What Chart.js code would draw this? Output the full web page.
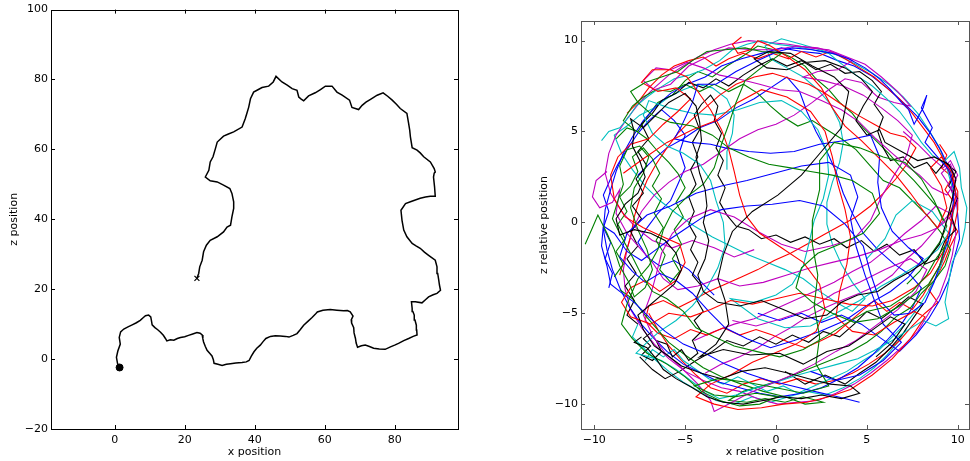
<!DOCTYPE html>
<html>
<head>
<meta charset="utf-8">
<script src="https://cdn.jsdelivr.net/npm/chart.js@4/dist/chart.umd.min.js"></script>
<style>
  body { margin: 0; background: #fff; width: 970px; height: 461px; position: relative; overflow: hidden; }
  canvas { position: absolute; top: 0; }
  #left { left: 0; }
  #right { left: 530px; }
</style>
</head>
<body>
<canvas id="left" width="470" height="461"></canvas>
<canvas id="right" width="440" height="461"></canvas>
<script>
// left panel: one walk, (x, z)
const leftTrack = [[1.4,-2.4],[0.8,-1.2],[0.5,0.5],[0.9,2.3],[1.6,4.3],[1.3,6.2],[1.7,7.8],[2.6,8.6],[3.8,9.2],[5.0,9.8],[6.2,10.4],[7.3,11.1],[8.2,11.9],[8.8,12.4],[9.7,12.6],[10.3,12.1],[10.5,11.0],[10.7,9.8],[11.5,9.0],[12.3,8.4],[13.1,7.7],[13.9,6.8],[14.5,5.9],[14.9,5.2],[15.9,5.5],[16.9,5.4],[17.9,5.9],[18.8,6.2],[20.0,6.4],[21.1,6.8],[22.3,7.2],[23.5,7.6],[24.4,7.4],[25.0,6.9],[25.2,5.8],[25.4,4.9],[25.9,3.6],[26.4,2.5],[27.2,1.6],[27.8,0.9],[28.2,-0.2],[28.4,-1.2],[29.5,-1.5],[30.7,-1.8],[31.9,-1.5],[33.1,-1.3],[34.6,-1.1],[36.4,-1.0],[37.6,-0.8],[38.4,-0.4],[39.0,0.8],[39.8,2.1],[40.6,3.1],[41.6,4.0],[42.4,5.0],[43.2,5.9],[44.5,6.5],[45.9,6.7],[47.3,6.6],[48.8,6.5],[49.8,6.3],[51.0,6.8],[52.1,7.3],[53.0,8.4],[54.0,9.7],[55.2,10.8],[56.4,11.9],[57.3,12.8],[57.9,13.5],[59.5,14.0],[61.6,14.2],[63.5,14.0],[65.4,13.8],[66.5,13.9],[67.3,13.5],[68.1,12.3],[67.6,11.2],[67.7,10.3],[68.3,9.0],[68.4,7.5],[68.8,5.9],[69.0,4.6],[69.4,3.4],[70.5,3.8],[71.6,4.0],[72.8,3.6],[74.0,3.1],[75.6,2.9],[77.3,2.8],[78.8,3.5],[80.0,4.0],[81.1,4.5],[82.6,5.3],[84.0,5.9],[85.3,6.5],[86.4,6.9],[86.3,8.3],[86.2,9.7],[85.8,11.2],[85.6,12.6],[85.2,13.6],[85.0,14.5],[84.8,16.4],[85.9,16.4],[87.8,16.1],[88.8,17.0],[89.7,17.8],[91.0,18.4],[92.1,18.8],[93.1,19.7],[92.8,21.2],[92.6,22.6],[92.3,24.5],[92.1,26.4],[91.6,28.3],[89.7,29.7],[88.5,30.6],[87.3,31.7],[86.1,32.4],[85.0,33.1],[83.5,35.0],[82.6,36.9],[82.1,39.7],[81.8,42.6],[83.1,44.5],[84.5,45.0],[85.9,45.5],[87.3,46.0],[88.8,46.4],[90.2,46.6],[91.6,46.6],[91.4,49.3],[91.1,52.1],[91.3,53.2],[91.6,53.5],[91.3,54.5],[90.2,56.4],[88.3,57.9],[87.3,59.0],[86.4,59.8],[85.0,60.5],[84.5,63.6],[84.3,65.5],[84.0,67.4],[83.5,70.3],[81.6,71.7],[80.5,72.9],[79.3,74.1],[78.0,75.2],[76.7,76.2],[75.0,75.5],[73.1,74.3],[71.8,73.5],[70.7,72.6],[69.7,71.4],[67.8,72.0],[67.1,74.1],[65.0,75.5],[63.5,76.4],[62.1,78.1],[60.2,78.1],[58.8,77.1],[57.3,76.2],[55.4,75.3],[54.0,73.9],[53.3,74.4],[52.6,75.0],[52.1,76.9],[50.7,77.4],[49.3,78.4],[47.8,79.3],[46.1,80.9],[45.3,79.3],[44.0,78.1],[42.1,77.7],[40.8,77.0],[39.7,76.4],[38.8,74.5],[38.3,72.1],[37.8,70.4],[37.3,68.8],[36.4,66.4],[34.0,65.0],[32.5,64.4],[31.1,63.8],[29.3,62.1],[28.8,60.3],[28.1,57.9],[27.3,56.4],[26.9,54.0],[25.9,52.1],[27.3,51.0],[29.3,50.7],[31.1,49.8],[32.9,48.8],[33.5,47.4],[34.0,45.0],[34.0,43.1],[33.5,40.7],[33.1,38.3],[32.1,37.8],[31.1,36.4],[29.3,35.0],[27.3,34.0],[26.2,32.6],[25.4,30.7],[25.0,28.3],[24.3,26.4],[24.0,24.5],[23.5,23.1]];
const leftXTicks = [0, 20, 40, 60, 80];
const leftZTicks = [-20, 0, 20, 40, 60, 80, 100];

// right panel: relative walks, several per colour
const relTicks = [-10, -5, 0, 5, 10];
const blackTrack = [[-7.4,-6.3],[-7.8,-6.6],[-7.1,-6.9],[-6.6,-7.5],[-6.2,-8.1],[-5.5,-8.6],[-4.6,-9.1],[-3.8,-9.6],[-2.9,-9.9],[-1.8,-10.0],[-0.7,-9.8],[0.3,-9.6],[1.4,-9.7],[2.5,-9.5],[3.6,-9.7],[4.6,-9.4],[4.1,-9.0],[3.0,-8.9],[1.8,-8.6],[0.7,-8.3],[-0.6,-8.0],[-1.9,-8.2],[-3.0,-8.6],[-4.1,-8.3],[-5.2,-7.9],[-6.0,-7.3],[-6.7,-6.8],[-7.3,-5.9],[-7.6,-5.1],[-7.0,-4.6],[-6.3,-4.0],[-5.6,-3.4],[-5.2,-2.6],[-5.5,-1.7],[-6.1,-1.0],[-6.9,-0.6],[-7.8,-0.4],[-8.6,-0.7],[-8.8,0.2],[-8.3,1.0],[-7.6,1.6],[-7.2,2.5],[-7.5,3.4],[-7.9,4.2],[-7.8,5.0],[-8.0,5.7],[-7.3,5.2],[-6.6,5.9],[-5.9,6.6],[-5.0,7.1],[-4.4,6.4],[-4.2,5.5],[-4.1,4.5],[-4.4,3.6],[-4.2,2.7],[-3.9,1.8],[-3.8,0.9],[-4.0,0.0],[-3.7,-1.0],[-3.9,-2.0],[-4.3,-2.9],[-4.0,-3.8],[-3.2,-4.4],[-2.0,-4.6],[-0.8,-4.3],[0.4,-4.8],[1.6,-5.3],[2.8,-5.1],[3.6,-4.4],[4.5,-4.0],[5.6,-3.8],[6.5,-3.2],[7.4,-2.7],[8.3,-2.1],[9.0,-1.2],[9.4,0.1],[9.7,1.3],[9.9,2.4],[9.5,3.2],[8.7,3.6],[7.8,3.4],[6.9,3.9],[6.0,4.4],[5.7,5.1],[5.0,4.8],[4.4,5.6],[4.8,6.4],[5.3,7.2],[4.7,7.9],[3.8,8.5],[2.7,8.9],[1.6,8.8],[0.6,8.4],[-0.5,8.5],[-1.2,9.0],[-0.4,9.4],[0.8,9.3],[2.0,8.6],[3.2,8.0],[4.0,7.2],[3.6,5.2],[2.5,3.9],[1.4,2.6],[0.1,1.5],[-1.3,0.6],[-2.4,-0.5],[-2.9,-1.8],[-3.2,-3.1],[-2.8,-4.3],[-2.6,-5.6],[-3.3,-6.7],[-4.2,-7.4],[-2.9,-7.0],[-1.4,-7.3],[0.2,-7.2],[1.5,-7.8],[2.8,-7.1],[4.0,-6.8],[5.2,-6.0],[6.3,-5.2],[7.1,-5.6],[6.4,-6.6],[5.5,-7.4]];
const blackTrack2 = [[-6.8,-6.0],[-7.3,-6.4],[-6.9,-6.8],[-7.4,-7.3],[-6.8,-7.6],[-6.3,-7.1],[-6.6,-6.5],[-6.0,-6.7],[-5.7,-7.4],[-5.2,-7.0],[-4.8,-7.6],[-4.3,-7.2],[-4.6,-6.5],[-4.1,-6.0],[-4.5,-5.4],[-4.0,-4.9],[-4.4,-4.2],[-4.1,-3.5],[-4.6,-2.9],[-4.3,-2.2],[-4.7,-1.5],[-4.4,-0.8],[-4.8,-0.1],[-4.5,0.6],[-4.8,1.4],[-4.4,2.1],[-4.7,2.9],[-4.3,3.6],[-4.6,4.4],[-4.2,5.1],[-4.5,5.9],[-4.1,6.5],[-3.6,7.0],[-3.2,6.4],[-3.4,5.6],[-3.0,4.9],[-3.3,4.1],[-2.9,3.4],[-3.2,2.6],[-2.8,1.9],[-3.1,1.1],[-2.7,0.4],[-2.2,-0.2],[-1.5,-0.4],[-0.8,-0.9],[0.0,-0.7],[0.8,-1.1],[1.6,-0.8],[2.4,-1.2],[3.2,-0.9],[3.9,-1.4],[4.7,-1.0],[5.4,-1.6],[6.1,-1.2],[6.8,-1.8],[7.6,-1.5],[8.2,-2.3],[8.9,-2.0],[9.3,-1.0],[9.9,-0.4],[9.6,0.5],[10.0,1.3],[9.5,2.0],[9.9,2.8],[9.3,3.3],[8.8,2.7],[8.3,3.3],[7.6,3.0],[7.0,3.6],[6.3,3.4],[5.9,4.1],[5.6,5.0],[5.9,5.8],[5.4,6.5],[5.8,7.2],[5.3,7.8],[4.6,8.3],[3.8,8.2],[3.0,8.7],[2.2,8.4],[1.4,8.9],[0.6,8.6],[-0.2,9.0],[-1.0,8.6],[-1.8,8.1],[-2.6,7.5],[-3.3,7.9],[-4.0,7.4],[-4.8,7.7],[-5.5,7.1],[-6.3,6.7],[-6.8,6.0],[-7.4,5.4],[-7.0,4.6],[-7.6,3.9],[-7.1,3.1],[-7.7,2.4],[-7.3,1.6],[-7.9,0.9],[-7.4,0.2],[-8.0,-0.5],[-7.6,-1.3],[-8.2,-2.0],[-7.7,-2.8],[-8.3,-3.5],[-7.8,-4.3],[-8.2,-5.1],[-7.6,-5.6]];
const blackTrack3 = [[0.5,-8.2],[1.6,-8.9],[2.7,-8.4],[3.8,-8.9],[4.6,-8.3],[5.5,-7.7],[6.3,-6.9],[7.0,-6.1],[7.6,-5.2],[8.1,-4.5],[7.3,-4.1],[6.6,-4.7],[5.8,-5.3],[5.0,-4.9],[4.3,-5.6],[3.5,-6.3],[2.6,-6.0],[1.8,-6.6],[0.9,-6.2],[0.0,-6.7],[-0.9,-6.3],[-1.8,-6.8],[-2.7,-6.5],[-3.5,-7.1],[-4.4,-7.6],[-5.3,-8.2],[-6.1,-8.6],[-6.8,-8.1],[-7.5,-7.4]];
const greenTrack = [[-10.5,-1.2],[-10.1,-0.3],[-9.8,0.4],[-9.3,-0.6],[-8.9,-1.5],[-8.6,-2.4],[-8.1,-3.3],[-7.8,-4.1],[-7.2,-3.6],[-6.8,-2.6],[-7.1,-1.5],[-7.6,-0.4],[-8.0,0.8],[-7.8,1.9],[-7.3,2.7],[-7.0,3.6],[-7.5,4.2],[-8.2,4.0],[-8.6,3.1],[-8.4,2.1],[-8.7,1.2],[-9.0,0.2],[-8.5,-0.8],[-7.9,-1.9],[-7.4,-2.9],[-6.8,-3.8],[-6.0,-4.2],[-5.1,-4.9],[-4.4,-5.8],[-3.4,-6.3],[-2.3,-6.8],[-1.1,-7.1],[0.2,-7.4],[1.5,-7.0],[2.7,-6.3],[3.8,-5.6],[5.0,-4.9],[6.3,-4.6],[7.5,-3.8],[8.3,-2.9],[8.8,-2.0],[9.3,-1.3],[9.0,-2.4],[8.4,-3.4],[7.6,-4.0],[6.8,-4.6],[5.6,-5.3],[4.3,-5.5],[3.1,-5.0],[2.0,-4.4],[1.1,-3.6],[1.4,-2.5],[2.3,-1.7],[3.5,-1.2],[4.8,-0.6],[5.7,0.5],[5.3,1.6],[4.2,2.3],[3.1,2.6],[1.9,2.8],[0.8,3.0],[-0.4,3.2],[-1.5,3.6],[-2.6,4.1],[-3.5,4.8],[-4.6,5.3],[-5.8,5.5],[-6.8,5.9],[-7.6,6.6],[-8.0,7.2],[-7.2,7.7],[-6.3,8.0],[-5.4,8.3],[-4.6,8.9],[-3.8,9.4],[-2.8,9.5],[-1.7,9.6],[-0.8,9.4],[0.3,9.3],[-0.7,8.6],[-1.7,7.8],[-2.2,6.6],[-2.6,5.4],[-3.0,4.3],[-3.4,3.0],[-4.0,2.1],[-4.9,1.4],[-5.7,0.6],[-6.2,-0.4],[-6.5,-1.5],[-7.0,-2.4],[-7.6,-3.1],[-8.2,-4.5],[-8.5,-5.6],[-7.9,-6.4],[-7.1,-7.2],[-6.0,-7.8],[-5.0,-8.5],[-4.1,-9.3],[-3.1,-9.8],[-2.0,-10.1],[-0.9,-10.0],[0.1,-9.6],[-1.1,-9.4],[-2.3,-9.6],[-3.4,-9.5],[-4.5,-9.0],[-3.2,-8.6],[-1.6,-8.8],[0.0,-9.1],[1.5,-9.4],[2.9,-9.0],[2.2,-7.8],[2.4,-6.3],[2.1,-4.6],[2.3,-2.9],[2.0,-1.2],[2.0,0.1],[2.4,1.8],[2.4,3.4],[3.2,4.4],[4.6,4.1],[5.9,3.6],[7.1,3.3],[8.0,2.4],[8.7,1.2],[9.2,0.1]];
const greenTrack2 = [[-8.9,-3.0],[-8.4,-2.3],[-8.8,-1.6],[-8.3,-0.9],[-8.7,-0.1],[-8.2,0.6],[-8.6,1.4],[-8.0,2.0],[-7.6,2.8],[-7.9,3.6],[-7.3,4.1],[-6.8,3.5],[-6.4,2.7],[-6.8,2.0],[-6.3,1.3],[-6.7,0.5],[-6.2,-0.3],[-6.6,-1.0],[-6.1,-1.8],[-6.4,-2.6],[-5.8,-3.3],[-5.3,-2.7],[-5.7,-2.0],[-5.2,-1.2],[-5.6,-0.4],[-5.1,0.3],[-5.5,1.1],[-5.0,1.9],[-5.4,2.7],[-5.9,3.3],[-6.5,3.9],[-7.1,4.6],[-7.8,5.1],[-8.4,5.6],[-7.9,6.4],[-7.3,6.9],[-6.6,7.3],[-5.8,7.2],[-5.0,7.6],[-4.2,7.2],[-3.4,7.6],[-2.6,7.2],[-1.8,7.6],[-1.0,7.1],[-0.3,6.4],[0.4,5.8],[1.2,5.3],[2.0,5.6],[2.8,5.1],[3.6,4.6],[4.4,4.0],[5.2,3.1],[5.9,2.3],[6.8,1.9],[7.6,1.1],[8.4,0.3],[9.1,-0.6],[9.6,-1.5],[9.3,-2.4],[8.7,-3.2],[8.0,-3.9],[7.4,-4.7],[6.6,-5.2],[5.8,-6.0],[5.0,-6.6],[4.1,-7.1],[3.2,-7.5],[2.2,-7.9],[1.2,-8.3],[0.2,-8.7],[-0.8,-9.0],[-1.8,-9.3],[-2.6,-9.8],[-1.6,-9.9],[-0.6,-9.7],[0.5,-9.9],[1.5,-9.6],[2.6,-9.9],[1.6,-10.0],[0.5,-9.6],[-0.7,-9.3],[-1.9,-8.9],[-3.0,-8.5],[-4.0,-8.0],[-5.0,-7.3],[-5.9,-6.6],[-6.6,-5.8],[-7.3,-5.0],[-7.9,-4.2],[-8.6,-3.7]];
const greenTrack3 = [[-8.8,4.6],[-8.2,5.2],[-7.6,5.0],[-7.1,5.8],[-6.5,6.6],[-5.7,7.0],[-5.0,7.8],[-4.3,8.3],[-3.5,8.0],[-2.7,8.6],[-1.9,9.1],[-1.0,9.7],[-0.1,9.5],[0.8,9.1],[1.6,8.6],[2.2,7.9],[2.9,7.3],[3.5,6.6],[4.2,6.0],[4.8,5.2],[5.5,4.5],[6.2,3.8],[6.9,3.0],[7.6,2.3],[8.3,1.5],[8.9,0.8],[9.4,-0.2],[9.0,-1.1],[8.5,-1.8],[7.9,-2.7],[7.2,-3.4]];
const redTrack = [[-1.9,10.2],[-2.4,9.8],[-2.1,9.3],[-1.4,9.5],[-1.0,10.0],[-0.3,9.7],[0.5,9.2],[1.6,8.4],[2.5,7.4],[3.1,6.3],[3.8,5.3],[4.7,4.5],[5.6,3.6],[6.6,2.6],[7.4,1.6],[8.2,0.5],[8.9,-0.3],[9.4,0.8],[9.1,2.0],[8.5,3.0],[9.1,3.6],[9.7,2.7],[9.9,1.5],[9.6,-0.2],[9.2,-1.6],[8.5,-2.8],[7.6,-3.6],[6.4,-4.3],[5.3,-4.6],[4.0,-4.5],[2.6,-4.2],[1.3,-3.9],[0.0,-4.2],[-1.3,-4.5],[-2.5,-4.3],[-3.6,-4.8],[-4.7,-5.2],[-5.9,-5.0],[-6.9,-5.6],[-8.0,-5.2],[-8.5,-4.4],[-8.0,-3.6],[-7.2,-3.2],[-6.4,-3.8],[-5.5,-3.2],[-5.0,-2.2],[-5.3,-1.2],[-6.2,-0.8],[-7.3,-0.3],[-8.3,0.3],[-8.9,1.3],[-9.1,2.6],[-8.7,3.6],[-8.0,4.3],[-7.0,4.6],[-6.2,5.4],[-5.4,6.1],[-4.7,6.8],[-5.5,7.4],[-6.5,7.2],[-7.4,7.7],[-6.8,8.4],[-5.8,8.4],[-4.9,8.0],[-4.3,7.2],[-3.6,6.2],[-3.0,5.1],[-2.6,4.0],[-2.3,2.8],[-2.0,1.5],[-1.6,0.3],[-0.9,-0.6],[0.3,-1.4],[1.5,-2.2],[2.4,-3.4],[2.7,-4.8],[2.2,-6.0],[1.1,-6.7],[-0.1,-7.2],[-1.3,-7.7],[-2.5,-8.4],[-3.6,-8.9],[-4.4,-9.6],[-3.4,-10.0],[-2.1,-10.3],[-0.8,-10.2],[0.4,-10.0],[1.7,-9.9],[2.9,-9.6],[4.1,-9.2],[5.3,-8.4],[6.4,-7.5],[7.4,-6.4],[8.2,-5.2],[7.6,-4.9],[6.5,-5.5],[5.4,-6.2],[4.2,-6.0],[3.3,-5.2],[3.5,-3.8],[3.9,-2.3],[4.1,-0.8],[3.8,0.7],[3.4,2.1],[3.1,3.6],[2.7,5.0],[1.9,6.1],[0.6,6.9],[-0.8,7.3],[-2.1,6.6],[-3.3,5.6],[-4.6,5.1],[-6.0,4.4],[-7.3,3.5],[-8.4,2.7]];
const redTrack2 = [[-8.2,6.0],[-7.6,6.6],[-7.0,7.4],[-6.3,8.1],[-5.6,8.6],[-4.8,8.9],[-4.0,9.1],[-3.3,8.6],[-2.6,9.0],[-1.8,9.3],[-1.0,9.0],[-0.2,9.3],[0.7,9.0],[1.4,9.4],[2.2,9.1],[3.0,9.4],[3.8,9.0],[4.6,8.5],[5.4,8.0],[6.1,7.4],[6.8,6.8],[7.5,6.0],[8.1,5.2],[8.7,4.4],[9.2,3.5],[9.6,2.6],[10.0,1.7],[10.0,0.7],[9.8,-0.3],[9.5,-1.3],[9.1,-2.2],[8.6,-3.1],[8.1,-4.0],[7.5,-4.8],[6.8,-4.4],[6.1,-4.9],[5.4,-4.3],[4.7,-4.9],[4.0,-5.5],[3.3,-6.1],[2.5,-6.5],[1.6,-6.9],[0.7,-6.6],[-0.2,-6.2],[-1.1,-5.9],[-2.0,-6.2],[-2.9,-5.8],[-3.8,-6.2],[-4.7,-5.9],[-5.6,-6.4],[-6.5,-6.1],[-7.2,-5.4],[-7.0,-4.6],[-6.2,-4.3],[-5.4,-4.7],[-4.6,-4.3],[-3.7,-3.8],[-2.8,-3.4],[-1.9,-3.0],[-1.0,-2.6],[-0.1,-2.1],[0.8,-1.7],[1.7,-1.2],[2.6,-0.7],[3.5,-0.2],[4.4,0.3],[5.2,0.9],[5.9,1.6],[6.6,2.4],[7.2,3.2],[7.7,4.1],[7.1,4.7],[6.3,4.9],[5.4,5.4],[4.5,5.9],[3.6,6.5],[2.7,7.1],[1.8,7.6],[0.8,7.9],[-0.2,8.2],[-1.2,8.0],[-2.2,7.6],[-3.1,7.0],[-3.9,6.3],[-4.7,5.6],[-5.4,4.9],[-6.0,4.1],[-6.6,3.2],[-7.1,2.3],[-7.5,1.3],[-7.8,0.3],[-8.0,-0.8],[-8.3,-1.8],[-8.6,-2.9]];
const redTrack3 = [[9.0,4.3],[9.4,3.7],[9.1,3.0],[9.7,2.5],[9.3,1.8],[9.8,1.1],[9.5,0.3],[10.0,-0.5],[9.6,-1.3],[9.3,-2.1],[8.9,-2.9],[8.4,-3.7],[8.9,-4.4],[8.2,-5.0],[7.5,-5.7],[6.8,-6.5],[6.0,-7.2],[5.1,-7.8],[4.2,-8.3],[3.2,-8.7],[2.2,-8.9],[1.2,-8.6],[0.2,-8.9],[-0.8,-8.6],[-1.8,-8.9],[-2.7,-9.4],[-3.6,-9.1],[-4.4,-8.4],[-5.2,-7.6],[-5.9,-6.8],[-6.5,-5.9],[-7.0,-5.0]];
const blueTrack = [[4.6,-9.9],[3.4,-9.6],[2.1,-9.3],[0.9,-9.0],[-0.4,-8.7],[-1.6,-8.3],[-2.8,-7.8],[-3.9,-7.2],[-5.1,-6.7],[-6.1,-6.0],[-7.0,-5.2],[-7.8,-4.4],[-8.6,-3.8],[-9.1,-3.4],[-9.3,-2.4],[-9.6,-1.3],[-9.5,-0.2],[-8.9,-0.6],[-8.2,-1.6],[-7.4,-2.1],[-6.6,-1.5],[-5.8,-0.9],[-4.9,-0.3],[-4.0,0.3],[-3.0,0.7],[-1.6,0.9],[-0.2,1.0],[1.3,1.2],[2.6,0.9],[3.8,-0.1],[4.8,-1.3],[5.2,-2.8],[5.7,-4.3],[6.5,-5.1],[7.4,-5.0],[8.2,-4.4],[8.7,-3.3],[9.1,-2.1],[9.5,-0.9],[9.7,0.4],[9.8,1.8],[9.5,2.9],[8.8,3.7],[8.2,4.4],[8.6,5.2],[8.0,6.3],[8.3,7.0],[8.1,6.3],[7.6,5.4],[7.3,6.2],[6.9,6.6],[6.3,7.3],[5.7,7.9],[4.9,8.5],[4.0,9.0],[3.1,9.3],[2.0,9.5],[0.9,9.6],[0.1,9.4],[-1.0,8.9],[-2.2,8.3],[-3.3,7.6],[-4.3,7.6],[-4.6,6.6],[-5.2,5.3],[-5.6,4.6],[-4.7,4.4],[-3.6,4.3],[-2.8,4.1],[-1.5,3.9],[-0.3,3.8],[1.0,3.9],[2.4,4.3],[3.8,4.5],[5.2,4.8],[5.7,3.6],[5.6,2.2],[5.8,0.8],[6.4,-0.5],[7.3,-1.4],[8.1,-2.0],[7.3,-3.0],[6.3,-3.8],[5.1,-4.5],[3.8,-5.4],[2.4,-6.0],[1.0,-6.5],[-0.3,-6.9],[-1.6,-6.4],[-2.8,-5.8],[-3.7,-4.9],[-4.6,-3.9],[-5.5,-3.2],[-6.4,-2.8],[-7.2,-3.3],[-7.9,-2.7],[-8.6,-1.9],[-8.2,-0.6],[-7.1,0.4],[-5.8,0.9],[-4.4,1.6],[-3.0,2.0],[-1.6,2.3],[-0.1,2.7],[1.4,3.1],[2.9,3.3],[4.1,2.6],[4.5,1.4],[4.1,0.2],[4.4,-1.3],[4.9,-2.9],[5.9,-5.6],[6.9,-6.6],[5.9,-7.6],[4.6,-8.4],[3.3,-8.7],[1.9,-8.2]];
const blueTrack2 = [[-1.0,-5.0],[0.2,-5.4],[1.4,-5.0],[2.5,-5.5],[3.6,-5.1],[4.7,-5.6],[5.8,-6.4],[6.8,-7.1],[7.7,-6.2],[8.4,-5.3],[9.0,-4.3],[9.5,-3.2],[9.8,-2.0],[10.1,-0.9],[10.0,0.4],[9.9,1.6],[9.6,2.8],[9.1,3.9],[8.5,4.9],[7.8,5.8],[7.0,6.6],[6.1,7.4],[5.2,8.1],[4.3,8.6],[3.4,8.9],[2.4,9.3],[1.4,9.4],[0.3,9.6],[-0.8,9.3],[-1.9,9.0],[-3.0,8.6],[-3.9,8.0],[-4.9,7.6],[-5.8,7.1],[-6.6,6.4],[-7.3,5.6],[-7.9,4.7],[-8.4,3.8],[-8.8,2.8],[-9.1,1.8],[-9.4,0.7],[-9.5,-0.4],[-9.3,-1.5],[-9.0,-2.6],[-8.6,-3.6],[-8.1,-4.6],[-7.5,-5.5],[-6.8,-6.3],[-6.0,-7.1],[-5.1,-7.8],[-4.1,-8.3],[-3.1,-8.8],[-2.0,-9.1],[-0.9,-9.4],[0.2,-9.6],[1.4,-9.4],[2.5,-9.1],[3.5,-8.6],[4.5,-8.0],[5.3,-7.3],[6.1,-6.5],[6.9,-5.6],[7.5,-4.7],[8.0,-3.6],[7.4,-2.9],[6.5,-2.3],[5.6,-1.5],[4.8,-0.6],[4.2,0.5],[3.7,1.6],[3.3,2.8],[2.8,3.9],[2.2,5.0],[1.7,6.1],[1.3,7.2],[0.6,8.0],[-0.3,7.4],[-1.2,6.8],[-2.2,6.3],[-3.2,5.6],[-4.2,5.2],[-5.1,4.6],[-6.0,4.1],[-6.8,3.4],[-7.6,2.6]];
const blueTrack3 = [[-9.2,-3.6],[-9.0,-2.8],[-9.4,-2.0],[-9.1,-1.1],[-9.5,-0.3],[-9.2,0.6],[-9.5,1.5],[-9.1,2.4],[-8.7,3.2],[-8.2,4.0],[-7.6,4.9],[-7.0,5.6],[-6.3,6.2],[-5.6,5.6],[-5.0,4.8],[-5.3,3.9],[-5.0,3.0],[-5.4,2.1],[-5.8,1.2],[-6.5,0.5],[-7.1,-0.3],[-7.6,-1.1],[-7.1,-1.9],[-6.4,-2.4],[-5.6,-2.1],[-4.8,-2.6],[-4.1,-3.3],[-3.4,-4.0]];
const magentaTrack = [[-9.3,2.8],[-9.9,2.3],[-10.1,1.4],[-9.7,0.8],[-9.0,1.1],[-8.6,1.8],[-8.8,0.5],[-8.2,-0.6],[-7.5,-1.4],[-6.8,-2.2],[-6.2,-3.1],[-5.4,-3.7],[-4.3,-3.5],[-3.2,-3.1],[-2.0,-3.5],[-0.7,-3.3],[0.6,-2.9],[1.9,-2.5],[3.1,-2.2],[4.4,-1.9],[5.7,-1.5],[6.9,-1.0],[8.0,-0.7],[8.9,-0.3],[9.6,0.3],[10.0,1.2],[9.5,2.1],[9.1,2.7],[9.6,3.2],[9.9,2.3],[9.4,1.5],[8.6,1.9],[7.9,2.6],[7.2,3.1],[6.4,3.8],[5.5,4.6],[4.6,5.5],[3.6,6.2],[2.5,6.7],[1.3,7.2],[0.2,7.3],[-0.9,7.6],[-2.1,7.9],[-3.1,8.1],[-4.0,8.5],[-4.9,8.8],[-5.8,8.4],[-6.6,8.5],[-7.3,7.8],[-6.7,7.3],[-5.8,7.6],[-4.8,8.6],[-3.6,9.2],[-2.6,9.6],[-1.3,9.5],[0.0,9.5],[1.1,9.7],[2.3,9.6],[3.3,9.3],[4.2,8.9],[3.4,8.4],[2.3,8.3],[1.5,8.0],[2.6,7.8],[3.7,7.5],[4.8,7.0],[5.8,6.3],[6.7,5.6],[7.5,4.8],[7.2,3.7],[6.5,2.6],[5.8,1.4],[5.2,0.1],[4.3,-0.9],[3.0,-1.3],[1.6,-1.6],[0.3,-1.2],[-1.0,-0.5],[-2.3,0.3],[-3.6,0.7],[-4.8,0.2],[-5.7,-0.6],[-6.3,-1.7],[-6.6,-2.9],[-6.9,-4.0],[-7.3,-5.1],[-6.8,-6.2],[-6.1,-7.2],[-5.2,-8.0],[-4.3,-8.9],[-3.6,-9.8],[-3.4,-10.4],[-2.6,-10.0],[-1.5,-9.4],[-0.3,-8.9],[0.9,-8.4],[2.1,-7.8],[3.3,-7.1],[4.4,-6.5],[5.6,-5.6],[6.7,-4.8],[7.7,-3.8],[8.3,-2.6],[7.4,-2.0],[6.0,-2.6],[4.6,-3.3],[3.2,-3.9],[1.8,-4.8],[0.3,-5.3],[-1.1,-5.7],[-2.4,-5.4]];
const magentaTrack2 = [[-1.2,-1.5],[-2.3,-1.9],[-3.4,-1.4],[-4.6,-1.0],[-5.7,-1.4],[-6.8,-1.0],[-7.7,-0.3],[-8.5,0.6],[-9.1,1.6],[-9.4,2.7],[-9.2,3.8],[-8.8,4.8],[-8.2,5.7],[-7.5,6.6],[-6.7,7.4],[-5.9,8.1],[-5.1,8.6],[-4.3,9.1],[-3.4,9.5],[-2.5,9.8],[-1.5,10.0],[-0.4,9.9],[0.7,9.8],[1.8,9.6],[2.9,9.5],[3.9,9.1],[4.9,8.7],[5.8,8.0],[6.7,7.2],[7.4,6.4],[6.5,6.6],[5.6,6.9],[4.7,7.7],[3.8,7.9],[2.9,7.3],[2.0,6.6],[1.0,5.9],[0.0,5.4],[-1.0,5.1],[-2.0,4.6],[-3.0,3.9],[-4.0,3.2],[-5.0,2.8],[-5.9,2.2],[-6.7,1.5],[-7.4,0.6],[-7.9,-0.4],[-8.2,-1.5],[-8.4,-2.6],[-8.3,-3.7],[-8.0,-4.8],[-7.4,-5.8],[-6.7,-6.7],[-5.9,-7.5],[-5.0,-8.2],[-4.0,-8.7],[-3.0,-9.1],[-2.0,-9.3],[-1.0,-9.7],[0.1,-10.0],[1.2,-9.9],[2.3,-9.8],[3.3,-9.4],[4.3,-8.9],[5.2,-8.3],[6.1,-7.6],[7.0,-6.8],[7.8,-6.0],[8.4,-5.0],[9.0,-4.0],[9.4,-2.9],[9.7,-1.8],[9.9,-0.6],[9.6,0.5],[8.8,0.9],[8.0,0.1],[7.1,-0.6],[6.2,-1.4],[5.2,-2.2],[4.2,-2.7],[3.2,-3.3],[2.1,-3.8],[1.0,-4.3],[-0.1,-4.8],[-1.2,-5.3],[-2.3,-5.6],[-3.4,-6.0],[-4.5,-6.5]];
const magentaTrack3 = [[7.0,5.0],[7.8,4.3],[8.5,3.6],[9.2,3.0],[9.6,3.4],[10.0,2.6],[9.6,1.9],[9.9,1.0],[9.4,0.3],[8.7,-0.5],[8.0,-1.3],[7.2,-2.0],[6.4,-2.9],[5.5,-3.5],[4.6,-3.9],[3.6,-4.3],[2.7,-4.7],[1.7,-5.2],[0.8,-5.8],[-0.1,-6.3],[-1.0,-6.9],[-2.0,-7.4],[-3.0,-7.8],[-3.9,-8.3]];
const cyanTrack = [[-9.6,4.5],[-9.2,5.0],[-8.6,5.2],[-8.1,5.8],[-7.7,6.4],[-7.1,6.9],[-6.4,7.4],[-5.6,7.9],[-4.8,8.1],[-4.0,8.4],[-3.1,8.9],[-2.4,9.5],[-1.6,9.8],[-0.8,10.0],[0.0,9.8],[0.9,9.7],[2.0,9.5],[2.9,9.3],[3.5,8.8],[4.4,8.1],[5.3,7.5],[6.1,6.8],[6.8,6.1],[7.4,5.3],[8.0,4.4],[8.6,3.7],[9.2,3.3],[9.8,3.9],[10.1,3.0],[10.2,1.9],[10.5,0.8],[10.4,-0.3],[10.2,-1.2],[9.7,-2.2],[9.5,-3.3],[9.3,-4.4],[9.5,-5.3],[8.8,-5.7],[8.1,-5.4],[7.3,-5.9],[6.4,-6.5],[5.5,-7.0],[4.5,-7.5],[3.4,-7.8],[2.3,-8.1],[1.2,-8.4],[0.0,-8.8],[-1.1,-9.1],[-2.2,-9.5],[-3.1,-9.7],[-3.9,-9.3],[-4.7,-8.7],[-5.5,-8.1],[-6.3,-7.6],[-7.0,-7.4],[-7.7,-7.2],[-7.1,-6.6],[-6.4,-6.0],[-5.5,-5.4],[-4.6,-4.6],[-3.8,-3.6],[-3.2,-2.5],[-2.8,-1.3],[-2.9,0.0],[-3.3,1.2],[-3.6,2.3],[-4.2,3.2],[-5.1,3.8],[-6.0,4.2],[-6.8,4.9],[-7.3,5.9],[-7.0,6.7],[-5.9,6.3],[-4.6,6.0],[-3.4,5.9],[-2.1,6.2],[-0.9,6.6],[0.3,6.7],[1.4,6.1],[2.3,5.1],[2.8,3.9],[2.9,2.6],[2.6,1.3],[2.1,0.1],[1.8,-1.2],[1.5,-2.4],[0.9,-3.4],[0.0,-4.0],[-1.2,-4.4],[-2.5,-4.2],[-1.0,-5.3],[0.5,-5.8],[1.9,-5.7],[3.3,-5.0],[4.6,-4.3],[5.8,-3.5],[6.9,-2.9],[8.0,-2.2],[8.9,-1.5],[9.5,-0.6],[8.6,0.6],[7.5,1.2],[6.6,0.4],[6.0,-0.9],[5.0,-2.0]];
const cyanTrack2 = [[-7.2,-7.6],[-6.8,-7.0],[-6.2,-7.4],[-5.6,-7.0],[-5.1,-7.6],[-4.4,-8.1],[-3.7,-8.6],[-2.9,-8.9],[-2.1,-8.5],[-1.3,-8.9],[-0.5,-9.3],[0.4,-9.0],[1.2,-9.4],[2.1,-9.0],[3.0,-8.6],[3.9,-8.2],[4.8,-7.6],[5.6,-7.1],[6.4,-6.3],[7.2,-5.5],[7.9,-4.6],[8.5,-3.6],[9.0,-2.6],[9.4,-1.5],[9.6,-0.4],[9.8,0.8],[9.7,1.9],[9.4,3.0],[9.0,4.1],[8.4,5.1],[7.8,6.0],[7.0,6.9],[6.2,7.6],[5.3,8.2],[4.4,8.7],[3.4,9.2],[2.4,9.5],[1.4,9.8],[0.3,10.1],[-0.6,9.7],[-0.3,9.0],[0.6,8.5],[1.5,8.0],[2.3,7.3],[3.0,6.5],[3.5,5.5],[3.7,4.4],[3.5,3.3],[3.1,2.2],[2.8,1.1],[2.8,-0.1],[3.1,-1.2],[3.6,-2.3],[4.2,-3.3],[4.9,-4.2],[4.2,-4.9],[3.3,-4.4],[2.4,-3.8],[1.5,-3.1],[0.5,-2.6],[-0.5,-2.2],[-1.5,-1.8],[-2.5,-1.3],[-3.5,-0.8],[-4.5,-0.2],[-5.5,0.5],[-6.4,1.2],[-7.2,2.0],[-7.9,2.9],[-8.5,3.8],[-8.9,4.8],[-8.2,5.3],[-7.5,5.9],[-6.7,6.3],[-5.9,6.9],[-5.1,7.3],[-4.3,7.6],[-3.5,7.4],[-2.7,6.8],[-2.3,5.9],[-2.4,4.9],[-2.7,3.9],[-2.7,2.9]];
const cyanTrack3 = [[-7.6,-5.6],[-7.9,-6.3],[-7.3,-6.9],[-6.6,-7.6],[-5.9,-8.2],[-5.1,-8.8],[-4.2,-9.3],[-3.3,-9.8],[-2.3,-10.0],[-1.3,-9.6],[-0.3,-9.9],[0.7,-9.6],[1.7,-9.3],[2.7,-9.5],[3.7,-9.1],[4.6,-8.6],[5.4,-8.0],[6.1,-7.3],[6.7,-6.6],[7.2,-5.8]];

const relTracks = [
  { data: blackTrack, color: '#000000' },
  { data: greenTrack, color: '#008000' },
  { data: redTrack, color: '#ff0000' },
  { data: blueTrack, color: '#0000ff' },
  { data: magentaTrack, color: '#bf00bf' },
  { data: cyanTrack, color: '#00bfbf' },
  { data: blackTrack2, color: '#000000' },
  { data: greenTrack2, color: '#008000' },
  { data: redTrack2, color: '#ff0000' },
  { data: blueTrack2, color: '#0000ff' },
  { data: magentaTrack2, color: '#bf00bf' },
  { data: cyanTrack2, color: '#00bfbf' },
  { data: blackTrack3, color: '#000000' },
  { data: greenTrack3, color: '#008000' },
  { data: redTrack3, color: '#ff0000' },
  { data: blueTrack3, color: '#0000ff' },
  { data: magentaTrack3, color: '#bf00bf' },
  { data: cyanTrack3, color: '#00bfbf' }
];

const FONT = { family: "'DejaVu Sans', sans-serif", size: 11 };
const fmt = v => String(v).replace('-', '\u2212');
const toPts = arr => arr.map(p => ({ x: p[0], y: p[1] }));

// matplotlib-style box with inward ticks on all four sides
const frameTicks = {
  id: 'frameTicks',
  afterDraw(chart, args, opts) {
    const { ctx, chartArea: a, scales } = chart;
    ctx.save();
    ctx.strokeStyle = opts.color || '#000';
    ctx.lineWidth = 1;
    const L = 4;
    const seg = (x1, y1, x2, y2) => { ctx.beginPath(); ctx.moveTo(x1, y1); ctx.lineTo(x2, y2); ctx.stroke(); };
    scales.x.ticks.forEach(t => {
      const p = Math.round(scales.x.getPixelForValue(t.value)) + 0.5;
      seg(p, a.bottom, p, a.bottom - L);
      seg(p, a.top, p, a.top + L);
    });
    scales.y.ticks.forEach(t => {
      const p = Math.round(scales.y.getPixelForValue(t.value)) + 0.5;
      seg(a.left, p, a.left + L, p);
      seg(a.right, p, a.right - L, p);
    });
    ctx.strokeRect(Math.round(a.left) + 0.5, Math.round(a.top) + 0.5, Math.round(a.right - a.left), Math.round(a.bottom - a.top));
    ctx.restore();
  }
};

function axis(min, max, ticks, title, isY, yWidth) {
  return {
    type: 'linear',
    min: min, max: max,
    afterBuildTicks: s => { s.ticks = ticks.map(v => ({ value: v })); },
    afterFit: s => { if (isY) s.width = yWidth; else s.height = 32; },
    grid: { display: false, drawTicks: false },
    border: { display: false },
    ticks: { font: FONT, color: '#000', padding: isY ? 3 : 5, callback: v => fmt(v), maxRotation: 0, autoSkip: false },
    title: { display: true, text: title, font: FONT, color: '#000', padding: isY ? { top: 8, bottom: 0 } : { top: 0, bottom: 2 } }
  };
}

Chart.defaults.animation = false;

new Chart(document.getElementById('left'), {
  type: 'scatter',
  data: {
    datasets: [
      { data: toPts(leftTrack), showLine: true, borderColor: '#000', borderWidth: 1.5, pointRadius: 0, tension: 0 },
      { data: toPts([leftTrack[0]]), pointRadius: 3.5, backgroundColor: '#000', borderColor: '#000' },
      { data: toPts([leftTrack[leftTrack.length - 1]]), pointStyle: 'crossRot', pointRadius: 3.5, borderColor: '#000', borderWidth: 1.2 }
    ]
  },
  options: {
    responsive: false,
    layout: { padding: { top: 9, right: 12, left: 0, bottom: 0 } },
    plugins: { legend: { display: false }, tooltip: { enabled: false }, frameTicks: { color: '#000' } },
    scales: {
      x: axis(-18.2, 98.1, leftXTicks, 'x position', false),
      y: axis(-20, 100, leftZTicks, 'z position', true, 51)
    }
  },
  plugins: [frameTicks]
});

new Chart(document.getElementById('right'), {
  type: 'scatter',
  data: {
    datasets: relTracks.map(t => ({
      data: toPts(t.data), showLine: true, borderColor: t.color, borderWidth: 1.1, pointRadius: 0, tension: 0
    }))
  },
  options: {
    responsive: false,
    layout: { padding: { top: 21, right: 1, left: 0, bottom: 0 } },
    plugins: { legend: { display: false }, tooltip: { enabled: false }, frameTicks: { color: '#555' } },
    scales: {
      x: axis(-10.73, 10.62, relTicks, 'x relative position', false),
      y: axis(-11.37, 11.08, relTicks, 'z relative position', true, 51)
    }
  },
  plugins: [frameTicks]
});
</script>
</body>
</html>
